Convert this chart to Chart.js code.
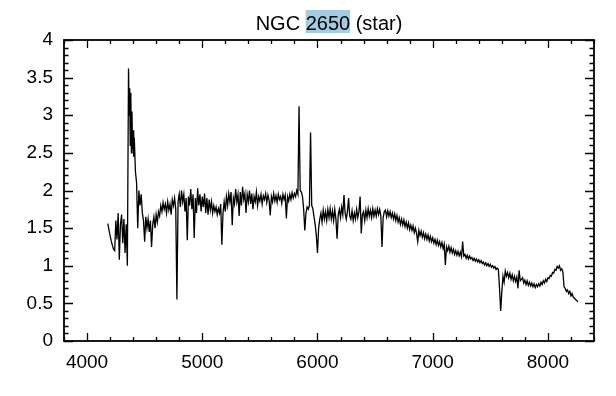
<!DOCTYPE html>
<html>
<head>
<meta charset="utf-8">
<script src="https://cdn.jsdelivr.net/npm/chart.js@4/dist/chart.umd.min.js"></script>
<style>
  body { margin: 0; background: #fff; }
  canvas { display: block; }
</style>
</head>
<body>
<canvas id="spectrum" width="616" height="396"></canvas>
<script>
// NGC 2650 (star) - flux vs wavelength
var titleParts = ['NGC ', '2650', ' (star)'];

var wavelength = [
  4180,4190,4200,4210,4220,4230,4240,4250,4260,4270,
  4280,4290,4300,4310,4320,4330,4340,4350,4360,4365,4370,4375,
  4380,4385,4390,4395,4400,4405,4410,4420,4430,4440,4450,4460,4470,
  4480,4490,4500,4510,4520,4530,4540,4550,4560,4570,
  4580,4590,4600,4610,4620,4630,4640,4650,4660,4670,
  4680,4690,4700,4710,4720,4730,4740,4750,4760,4770,
  4780,4790,4800,4810,4820,4830,4840,4850,4860,4870,
  4880,4890,4900,4910,4920,4930,4940,4950,4960,4970,
  4980,4990,5000,5010,5020,5030,5040,5050,5060,5070,
  5080,5090,5100,5110,5120,5130,5140,5150,5160,5170,
  5180,5190,5200,5210,5220,5230,5240,5250,5260,5270,
  5280,5290,5300,5310,5320,5330,5340,5350,5360,5370,
  5380,5390,5400,5410,5420,5430,5440,5450,5460,5470,
  5480,5490,5500,5510,5520,5530,5540,5550,5560,5570,
  5580,5590,5600,5610,5620,5630,5640,5650,5660,5670,
  5680,5690,5700,5710,5720,5730,5740,5750,5760,5770,
  5780,5790,5800,5810,5820,5830,5840,5850,5860,5870,
  5880,5890,5900,5910,5920,5930,5940,5950,5960,5970,
  5980,5990,6000,6010,6020,6030,6040,6050,6060,6070,
  6080,6090,6100,6110,6120,6130,6140,6150,6160,6170,
  6180,6190,6200,6210,6220,6230,6240,6250,6260,6270,
  6280,6290,6300,6310,6320,6330,6340,6350,6360,6370,
  6380,6390,6400,6410,6420,6430,6440,6450,6460,6470,
  6480,6490,6500,6510,6520,6530,6540,6550,6560,6570,
  6580,6590,6600,6610,6620,6630,6640,6650,6660,6670,
  6680,6690,6700,6710,6720,6730,6740,6750,6760,6770,
  6780,6790,6800,6810,6820,6830,6840,6850,6860,6870,
  6880,6890,6900,6910,6920,6930,6940,6950,6960,6970,
  6980,6990,7000,7010,7020,7030,7040,7050,7060,7070,
  7080,7090,7100,7110,7120,7130,7140,7150,7160,7170,
  7180,7190,7200,7210,7220,7230,7240,7250,7260,7270,
  7280,7290,7300,7310,7320,7330,7340,7350,7360,7370,
  7380,7390,7400,7410,7420,7430,7440,7450,7460,7470,
  7480,7490,7500,7510,7520,7530,7540,7550,7560,7570,
  7580,7590,7600,7610,7620,7630,7640,7650,7660,7670,
  7680,7690,7700,7710,7720,7730,7740,7750,7760,7770,
  7780,7790,7800,7810,7820,7830,7840,7850,7860,7870,
  7880,7890,7900,7910,7920,7930,7940,7950,7960,7970,
  7980,7990,8000,8010,8020,8030,8040,8050,8060,8070,
  8080,8090,8100,8110,8120,8130,8140,8150,8160,8170,
  8180,8190,8200,8210,8220,8230,8240,8250,8260
];

var flux = [
  1.56,1.48,1.40,1.33,1.27,1.22,1.20,1.60,1.35,1.70,
  1.08,1.55,1.68,1.30,1.62,1.17,1.55,1.00,3.62,3.00,3.36,2.60,
  3.30,2.50,3.05,2.55,2.80,2.45,2.70,2.25,2.10,1.50,2.00,1.80,1.95,
  1.70,1.60,1.32,1.65,1.50,1.62,1.45,1.60,1.25,1.55,
  1.65,1.50,1.68,1.58,1.72,1.66,1.80,1.72,1.84,1.75,
  1.82,1.70,1.85,1.74,1.82,1.68,1.88,1.80,1.90,1.75,
  0.55,1.85,1.95,1.78,2.00,1.85,1.95,1.72,1.90,1.34,
  1.92,1.80,2.02,1.75,1.95,1.37,1.90,1.70,2.03,1.80,
  1.95,1.72,1.92,1.78,1.96,1.70,1.90,1.68,1.88,1.74,
  1.85,1.70,1.80,1.72,1.78,1.68,1.76,1.70,1.82,1.28,
  1.70,1.85,1.72,1.92,1.80,1.96,1.85,1.98,1.54,1.90,
  1.82,2.02,1.85,1.95,1.66,1.98,1.80,2.05,1.88,1.96,
  1.70,1.95,1.85,2.00,1.82,1.96,1.75,1.92,1.85,1.98,
  1.80,1.92,1.86,1.95,1.82,1.93,1.88,1.96,1.84,1.94,
  1.87,1.67,1.92,1.85,1.96,1.86,1.93,1.84,1.95,1.88,
  1.92,1.83,1.95,1.88,1.94,1.63,1.92,1.86,1.95,1.88,
  1.97,1.90,1.96,1.92,2.00,1.95,3.12,2.00,1.98,1.92,
  1.75,1.47,1.70,1.78,1.75,1.80,2.77,1.80,1.76,1.65,
  1.55,1.40,1.17,1.50,1.62,1.70,1.58,1.74,1.62,1.72,
  1.60,1.75,1.64,1.76,1.62,1.73,1.60,1.75,1.62,1.36,
  1.68,1.75,1.64,1.78,1.68,1.94,1.70,1.62,1.72,1.90,
  1.66,1.62,1.73,1.60,1.70,1.62,1.75,1.64,1.72,1.92,
  1.43,1.68,1.72,1.60,1.74,1.64,1.76,1.66,1.74,1.64,
  1.76,1.66,1.74,1.66,1.76,1.68,1.75,1.66,1.25,1.64,
  1.72,1.74,1.65,1.73,1.66,1.72,1.64,1.70,1.62,1.69,
  1.60,1.67,1.58,1.64,1.55,1.62,1.54,1.61,1.52,1.58,
  1.50,1.57,1.48,1.54,1.47,1.53,1.44,1.50,1.43,1.32,
  1.47,1.40,1.46,1.38,1.44,1.36,1.42,1.35,1.41,1.33,
  1.39,1.32,1.37,1.30,1.35,1.28,1.34,1.27,1.32,1.25,
  1.31,1.23,1.29,1.01,1.25,1.20,1.26,1.18,1.24,1.17,
  1.22,1.15,1.20,1.14,1.19,1.13,1.18,1.12,1.32,1.13,
  1.15,1.10,1.14,1.09,1.13,1.09,1.11,1.07,1.10,1.06,
  1.09,1.05,1.08,1.04,1.07,1.03,1.05,1.01,1.04,1.00,
  1.03,0.99,1.02,0.98,1.00,0.97,0.99,0.95,0.97,0.95,
  0.70,0.40,0.65,0.86,0.78,0.93,0.86,0.91,0.84,0.90,
  0.82,0.88,0.80,0.86,0.79,0.85,0.70,0.94,0.80,0.82,
  0.84,0.77,0.81,0.75,0.80,0.74,0.78,0.73,0.77,0.72,
  0.76,0.71,0.75,0.72,0.76,0.73,0.78,0.75,0.80,0.77,
  0.82,0.79,0.84,0.83,0.87,0.86,0.91,0.90,0.95,0.94,
  0.99,0.97,1.00,0.94,0.96,0.92,0.72,0.70,0.66,0.68,
  0.63,0.66,0.60,0.63,0.58,0.57,0.55,0.54,0.52
];

var xTicks = [4000, 5000, 6000, 7000, 8000];
var yTicks = [0, 0.5, 1, 1.5, 2, 2.5, 3, 3.5, 4];
var xRange = [3800, 8400];
var yRange = [0, 4];

var points = wavelength.map(function (w, i) { return { x: w, y: flux[i] }; });

// frame with inward ticks on all four sides, plus the title
var frameTicks = {
  id: 'frameTicks',
  afterDraw: function (chart) {
    var ctx = chart.ctx, a = chart.chartArea;
    var xs = chart.scales.x, ys = chart.scales.y;
    ctx.save();
    ctx.strokeStyle = '#000';
    ctx.lineWidth = 1.3;
    ctx.beginPath();
    for (var v = xRange[0]; v <= xRange[1]; v += 200) {
      var len = v % 1000 === 0 ? 8 : 4;
      var px = Math.round(xs.getPixelForValue(v)) + 0.5;
      ctx.moveTo(px, a.bottom); ctx.lineTo(px, a.bottom - len);
      ctx.moveTo(px, a.top); ctx.lineTo(px, a.top + len);
    }
    for (var i = 0; i <= 40; i++) {
      var l = i % 5 === 0 ? 9 : 4.5;
      var py = Math.round(ys.getPixelForValue(i / 10)) + 0.5;
      ctx.moveTo(a.left, py); ctx.lineTo(a.left + l, py);
      ctx.moveTo(a.right, py); ctx.lineTo(a.right - l, py);
    }
    ctx.stroke();
    ctx.lineWidth = 1.8;
    ctx.strokeRect(a.left, a.top, a.right - a.left, a.bottom - a.top);

    // title, with the highlighted number
    ctx.font = '20px "Liberation Sans", Arial, sans-serif';
    ctx.textBaseline = 'alphabetic';
    ctx.textAlign = 'left';
    var widths = titleParts.map(function (t) { return ctx.measureText(t).width; });
    var total = widths[0] + widths[1] + widths[2];
    var x0 = (a.left + a.right) / 2 - total / 2;
    ctx.fillStyle = '#a3cde2';
    ctx.fillRect(x0 + widths[0], 10, widths[1], 23);
    ctx.fillStyle = '#000';
    var cx = x0;
    titleParts.forEach(function (t, k) { ctx.fillText(t, cx, 30); cx += widths[k]; });
    ctx.restore();
  }
};

var chart = new Chart(document.getElementById('spectrum').getContext('2d'), {
  type: 'line',
  data: {
    datasets: [{
      data: points,
      borderColor: '#000',
      borderWidth: 1.3,
      pointRadius: 0,
      tension: 0,
      fill: false
    }]
  },
  options: {
    responsive: false,
    animation: false,
    events: [],
    layout: { autoPadding: false, padding: { top: 40, right: 22, left: 0, bottom: 0 } },
    plugins: { legend: { display: false }, title: { display: false }, tooltip: { enabled: false } },
    scales: {
      x: {
        type: 'linear',
        min: xRange[0],
        max: xRange[1],
        afterBuildTicks: function (s) { s.ticks = xTicks.map(function (v) { return { value: v }; }); },
        afterFit: function (s) { s.height = 55; },
        grid: { display: false, drawTicks: false },
        border: { display: false },
        ticks: {
          padding: 10,
          color: '#000',
          maxRotation: 0,
          autoSkip: false,
          font: { family: '"Liberation Sans", Arial, sans-serif', size: 19 },
          callback: function (v) { return String(v); }
        }
      },
      y: {
        min: yRange[0],
        max: yRange[1],
        afterBuildTicks: function (s) { s.ticks = yTicks.map(function (v) { return { value: v }; }); },
        afterFit: function (s) { s.width = 64; },
        grid: { display: false, drawTicks: false },
        border: { display: false },
        ticks: {
          padding: 11,
          color: '#000',
          autoSkip: false,
          font: { family: '"Liberation Sans", Arial, sans-serif', size: 19 },
          callback: function (v) { return String(v); }
        }
      }
    }
  },
  plugins: [frameTicks]
});
</script>
</body>
</html>
